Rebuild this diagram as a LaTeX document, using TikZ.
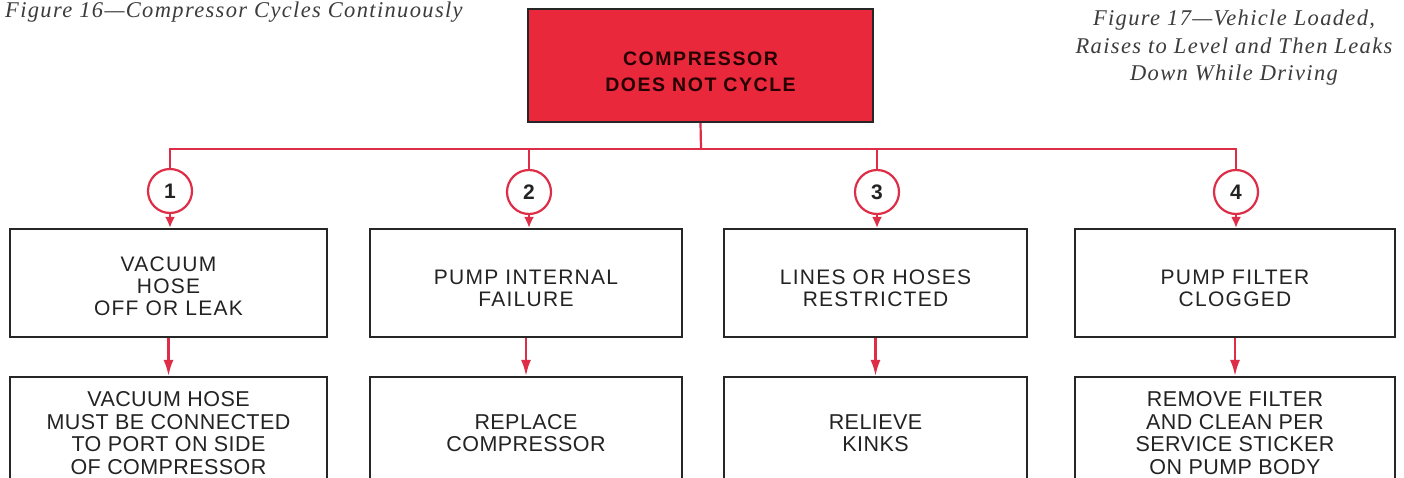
\documentclass[tikz,border=0pt]{standalone}
\usepackage{fontspec}
\setmainfont{Liberation Serif}
\setsansfont{Liberation Sans}
\newfontfamily\capfont[LetterSpace=6]{Liberation Serif}
\newfontfamily\boxfont[LetterSpace=6]{Liberation Sans}
\newfontfamily\botfont[LetterSpace=2]{Liberation Sans}
\newfontfamily\topfont[LetterSpace=8]{Liberation Sans}
\usetikzlibrary{arrows.meta}
\definecolor{redfill}{RGB}{233,40,60}
\definecolor{linered}{RGB}{222,45,70}
\definecolor{ink}{RGB}{35,35,35}
\definecolor{capink}{RGB}{60,60,60}
\tikzset{
  topbox/.style={draw=black!85, line width=2.2pt, fill=redfill, minimum width=345pt, minimum height=113pt, inner sep=0pt},
  toptext/.style={inner sep=0pt, align=center, font=\topfont\bfseries\fontsize{19.5}{26}\selectfont, text=black!85!red},
  midbox/.style={draw=black!85, line width=2.2pt, fill=white, minimum height=108pt, inner sep=0pt},
  midtext/.style={inner sep=0pt, align=center, font=\boxfont\fontsize{21}{21.8}\selectfont, text=ink},
  botbox/.style={draw=black!85, line width=2.2pt, fill=white, minimum height=112pt, inner sep=0pt,
    align=center, font=\botfont\fontsize{21.5}{22.5}\selectfont, text=ink},
  numcircle/.style={circle, draw=linered, line width=2.2pt, fill=white, minimum size=44pt, inner sep=0pt,
    font=\sffamily\bfseries\fontsize{21}{21}\selectfont, text=ink},
  redline/.style={draw=linered, line width=2.2pt},
  redarrow/.style={draw=linered, line width=2.2pt, -{Latex[length=11pt,width=10pt]}},
  redarrowlong/.style={draw=linered, line width=2.2pt, -{Latex[length=16pt,width=10pt]}},
  caption/.style={inner sep=0pt, font=\capfont\itshape\fontsize{22.5}{27.5}\selectfont, text=capink}
}
\begin{document}
\begin{tikzpicture}[x=1pt,y=-1pt]
\clip (0,0) rectangle (1404,477);
\fill[white] (0,0) rectangle (1404,477);

\node[caption, anchor=base west] (cap16) at (5,17) {Figure 16—Compressor Cycles Continuously};
\node[caption, anchor=north, align=center] (cap17) at (1234,10) {Figure 17—Vehicle Loaded,\\Raises to Level and Then Leaks\\Down While Driving};

\node[topbox] (top) at (700.5,65.5) {};
\node[toptext] (toptxt) at (700.5,72) {COMPRESSOR\\DOES NOT CYCLE};
\coordinate (j) at (701,149);

\node[numcircle] (c1) at (170,191) {1};
\node[numcircle] (c2) at (529,192) {2};
\node[numcircle] (c3) at (877,192) {3};
\node[numcircle] (c4) at (1236,192) {4};

\node[midbox, minimum width=317pt] (m1) at (168.5,283) {};
\node[midbox, minimum width=312pt] (m2) at (526,283) {};
\node[midbox, minimum width=303pt] (m3) at (875.5,283) {};
\node[midbox, minimum width=320pt] (m4) at (1235,283) {};
\node[midtext] (mt1) at (168.5,286.5) {VACUUM\\HOSE\\OFF OR LEAK};
\node[midtext] (mt2) at (526,288) {PUMP INTERNAL\\FAILURE};
\node[midtext] (mt3) at (875.5,288) {LINES OR HOSES\\RESTRICTED};
\node[midtext] (mt4) at (1235,288) {PUMP FILTER\\CLOGGED};

\node[botbox, minimum width=317pt] (b1) at (168.5,433) {VACUUM HOSE\\MUST BE CONNECTED\\TO PORT ON SIDE\\OF COMPRESSOR};
\node[botbox, minimum width=312pt] (b2) at (526,433) {REPLACE\\COMPRESSOR};
\node[botbox, minimum width=303pt] (b3) at (875.5,433) {RELIEVE\\KINKS};
\node[botbox, minimum width=320pt] (b4) at (1235,433) {REMOVE FILTER\\AND CLEAN PER\\SERVICE STICKER\\ON PUMP BODY};

\draw[redline] (top.south) -- (j);
\draw[redline] (c1.north) -- (c1 |- j) -- (c4 |- j) -- (c4.north);
\draw[redline] (c2.north) -- (c2 |- j);
\draw[redline] (c3.north) -- (c3 |- j);

\draw[redarrow] (c1.south) -- (c1 |- m1.north);
\draw[redarrow] (c2.south) -- (c2 |- m2.north);
\draw[redarrow] (c3.south) -- (c3 |- m3.north);
\draw[redarrow] (c4.south) -- (c4 |- m4.north);

\draw[redarrowlong] (m1.south) -- (m1.south |- b1.north);
\draw[redarrowlong] (m2.south) -- (m2.south |- b2.north);
\draw[redarrowlong] (m3.south) -- (m3.south |- b3.north);
\draw[redarrowlong] (m4.south) -- (m4.south |- b4.north);
\end{tikzpicture}
\end{document}
